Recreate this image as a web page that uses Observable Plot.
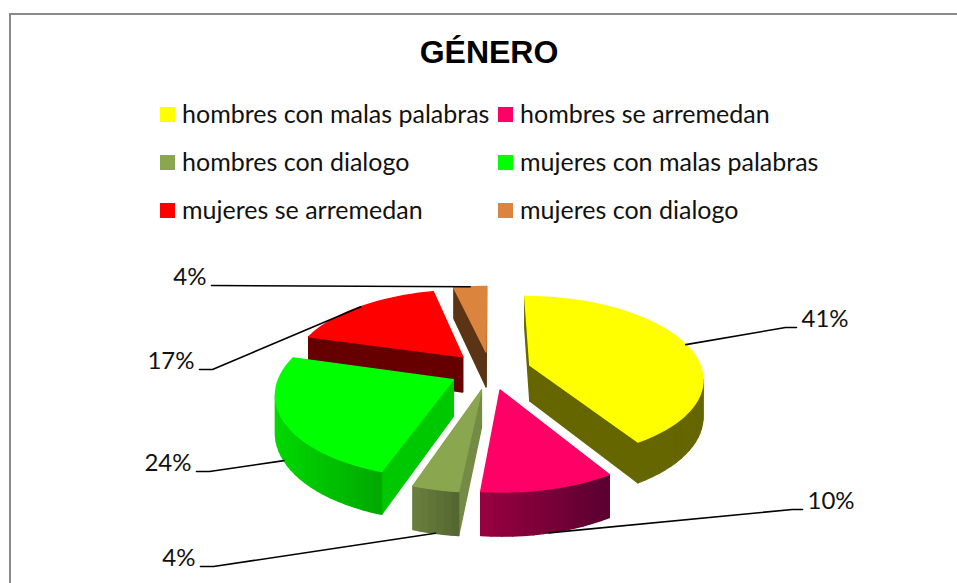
<!DOCTYPE html>
<html><head><meta charset="utf-8">
<script src="https://cdn.jsdelivr.net/npm/d3@7"></script>
<script src="https://cdn.jsdelivr.net/npm/@observablehq/plot@0.6"></script>
<style>
html,body{margin:0;padding:0;background:#fff;width:957px;height:583px;overflow:hidden}
#frame{position:absolute;left:9px;top:13px;width:948px;height:570px;border-left:2px solid #8a8a8a;border-top:2px solid #8a8a8a;box-sizing:border-box}
#title{position:absolute;left:0;width:957px;top:33px;text-align:center;padding-left:21px;box-sizing:border-box;font:bold 32px "Liberation Sans";line-height:38px;color:#000}
.lg{position:absolute;font:25px Lato;line-height:30px;color:#111;white-space:nowrap}
.sw{position:absolute;width:15px;height:15px}
#chart{position:absolute;left:0;top:240px}
</style></head><body>
<div id="frame"></div><div id="title">GÉNERO</div><div id="legend"></div><div id="chart"></div>
<script>
const categories=["hombres con malas palabras","hombres se arremedan","hombres con dialogo","mujeres con malas palabras","mujeres se arremedan","mujeres con dialogo"];
// unrounded shares; the printed labels are these rounded
const shares=[41.2,10.4,3.6,24.2,17.0,3.6];
const topColors=["#ffff00","#ff0066","#8aa64f","#00ff00","#ff0000","#da843d"];
const wallColors=["#666600","#990040","#6b7f3f","#00d800","#660000","#5a3414"];
const wallColorsEnd=["#666600","#5a0030","#536630","#00a800","#660000","#5a3414"];
const sideColors=["#666600","#990040","#748b45","#00c800","#660000","#5a3414"];
const labelAnchors=[[796,327,"start"],[802,509,"start"],[200,566,"end"],[196,471,"end"],[199,369,"end"],[211,285,"end"]];
const legendSpots=[[161,107],[499,107],[161,155],[499,155],[161,203],[499,203]];

const cx=490,cy=370,R=172,K=80.4,P=.149,EX=.24,D=36;
const ang=d3.cumsum(shares).map(v=>v/100*2*Math.PI);
const starts=[0,...ang.slice(0,-1)];
function proj(X,Y,z){const s=1/(1+P*Y);return [cx+R*X*s,cy-K*Y*s+D*z*s];}
const rows=[];let fid=0;
function face(pts,fill){const id=fid++;for(const [x,y] of pts)rows.push({x,y,id,fill});}
const area=p=>d3.polygonArea(p);
const slices=shares.map((v,i)=>{const a0=starts[i],a1=ang[i],m=(a0+a1)/2;
  return {i,a0,a1,m,ox:EX*Math.sin(m),oy:EX*Math.cos(m)};});
const order=[...slices].sort((a,b)=>b.oy-a.oy);
for(const s of order){
  const pt=(a,r,z)=>proj(s.ox+r*Math.sin(a),s.oy+r*Math.cos(a),z);
  const n=Math.max(6,Math.round((s.a1-s.a0)/.05));
  const th=d3.range(n+1).map(k=>s.a0+(s.a1-s.a0)*k/n);
  const walls=[[pt(s.a0,0,0),pt(s.a0,1,0),pt(s.a0,1,1),pt(s.a0,0,1)],[pt(s.a1,1,0),pt(s.a1,0,0),pt(s.a1,0,1),pt(s.a1,1,1)]];
  for(const w of walls) if(area(w)>0) face(w,sideColors[s.i]);
  const col=d3.interpolateRgb(wallColors[s.i],wallColorsEnd[s.i]);
  const quads=[];
  for(let k=0;k<n;k++){const q=[pt(th[k],1,0),pt(th[k+1],1,0),pt(th[k+1],1,1),pt(th[k],1,1)];
    if(area(q)>0) quads.push(q);}
  const xs=quads.flat().map(p=>p[0]);const [x0,x1]=d3.extent(xs);
  // strips overlap their neighbour through the stroke, so no seams show
  for(const q of quads) face(q,col(((q[0][0]+q[1][0])/2-x0)/((x1-x0)||1)));
  face([pt(s.a0,0,0),...th.map(a=>pt(a,1,0))],topColors[s.i]);
}
const leaders=[];
const wallSide=[0,1,1,1,0,0];
const elbow=[11,10,13,13,13,0];
slices.forEach(s=>{const st=proj(s.ox+Math.sin(s.m),s.oy+Math.cos(s.m),wallSide[s.i]);
  const [ax,ay,side]=labelAnchors[s.i];const ex=ax+(side==="start"?-1:1)*elbow[s.i];
  [st,[ex,ay],[ax,ay]].forEach(p=>leaders.push({x:p[0],y:p[1],i:s.i}));});
const labels=slices.map(s=>({x:labelAnchors[s.i][0]+(labelAnchors[s.i][2]==="start"?5:-5),y:labelAnchors[s.i][1]-8,t:Math.round(shares[s.i])+"%",a:labelAnchors[s.i][2]}));

const chart=Plot.plot({width:957,height:343,margin:0,
  x:{domain:[0,957],range:[0,957],axis:null},
  y:{domain:[240,583],range:[0,343],axis:null},
  color:{type:"identity"},
  marks:[
    Plot.line(rows,{x:"x",y:"y",z:"id",fill:"fill",stroke:"fill",strokeWidth:1.4,strokeLinejoin:"round",curve:"linear-closed"}),
    Plot.line(leaders,{x:"x",y:"y",z:"i",stroke:"#000",strokeWidth:1.6,curve:"linear"}),
    Plot.text(labels.filter(d=>d.a==="start"),{x:"x",y:"y",text:"t",textAnchor:"start",fontSize:24,fontFamily:"Lato",fill:"#111"}),
    Plot.text(labels.filter(d=>d.a==="end"),{x:"x",y:"y",text:"t",textAnchor:"end",fontSize:24,fontFamily:"Lato",fill:"#111"})
  ]});
document.getElementById("chart").append(chart);
const lg=document.getElementById("legend");
categories.forEach((c,i)=>{const [x,y]=legendSpots[i];
  const s=document.createElement("div");s.className="sw";s.style.cssText=`left:${x-1}px;top:${y}px;background:${topColors[i]}`;lg.append(s);
  const t=document.createElement("div");t.className="lg";t.textContent=c;t.style.left=(x+21)+"px";t.style.top=(y-9)+"px";lg.append(t);});
</script></body></html>
